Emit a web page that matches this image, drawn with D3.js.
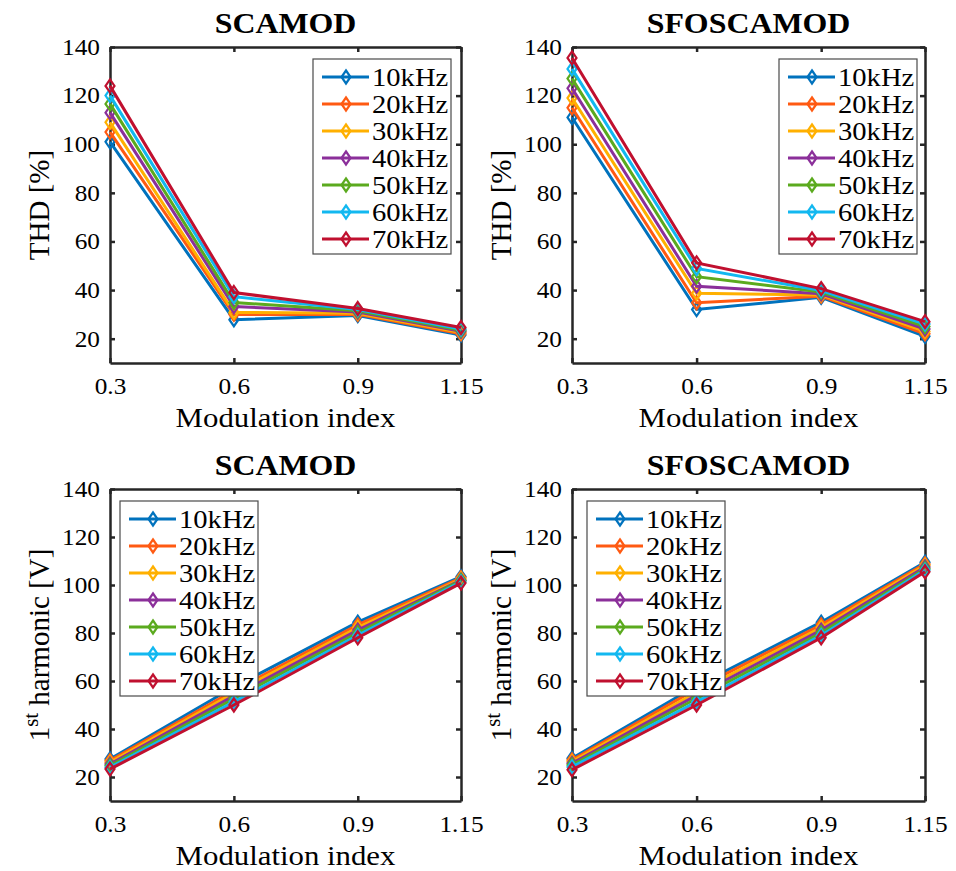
<!DOCTYPE html>
<html>
<head>
<meta charset="utf-8">
<script src="https://cdn.jsdelivr.net/npm/d3@7"></script>
<style>
  html, body { margin: 0; padding: 0; background: #fff; }
  svg { display: block; }
  svg text { font-family: "Liberation Serif", "Times New Roman", serif !important; }
</style>
</head>
<body>
<svg id="chart" width="956" height="871"></svg>
<script>
// ---------------- DATA ----------------
const modulationIndex = [0.3, 0.6, 0.9, 1.15];
const xTickLabels = ["0.3", "0.6", "0.9", "1.15"];
const yTickValues = [20, 40, 60, 80, 100, 120, 140];
const frequencies = ["10kHz", "20kHz", "30kHz", "40kHz", "50kHz", "60kHz", "70kHz"];
const seriesColors = ["#0072BD", "#FF5A12", "#FFB000", "#8B2F9A", "#5BAA1E", "#12B8F0", "#C0102F"];

// THD [%] - SCAMOD (one row per frequency)
const thdScamod = [
  [101.0, 27.8, 29.5, 21.5],
  [105.0, 30.0, 30.0, 22.0],
  [109.0, 30.8, 30.5, 22.5],
  [113.0, 33.2, 31.0, 23.0],
  [116.6, 34.9, 31.5, 23.5],
  [120.0, 37.3, 32.0, 24.0],
  [124.0, 39.0, 32.4, 24.6]
];
// THD [%] - SFOSCAMOD
const thdSfoscamod = [
  [111.0, 32.0, 37.0, 21.0],
  [115.0, 34.8, 37.5, 22.0],
  [119.0, 38.7, 38.0, 23.0],
  [123.0, 41.6, 38.5, 24.0],
  [127.0, 45.5, 39.2, 25.0],
  [131.0, 48.9, 39.8, 26.0],
  [135.5, 51.2, 40.6, 27.0]
];
// 1st harmonic [V] - SCAMOD
const h1Scamod = [
  [27.5, 57.5, 84.5, 103.5],
  [26.8, 56.0, 83.4, 103.0],
  [26.1, 55.0, 82.3, 102.5],
  [25.4, 53.8, 81.2, 102.0],
  [24.7, 52.6, 80.1, 101.8],
  [24.0, 51.3, 79.0, 101.3],
  [23.3, 50.0, 78.0, 100.8]
];
// 1st harmonic [V] - SFOSCAMOD
const h1Sfoscamod = [
  [27.8, 58.0, 84.5, 109.5],
  [27.1, 56.7, 83.4, 108.8],
  [26.4, 55.3, 82.3, 108.2],
  [25.7, 54.0, 81.2, 107.5],
  [25.0, 52.7, 80.1, 106.8],
  [24.2, 51.3, 79.0, 106.2],
  [23.0, 50.0, 78.0, 105.5]
];
const titles = ["SCAMOD", "SFOSCAMOD", "SCAMOD", "SFOSCAMOD"];
const xLabel = "Modulation index";

// ---------------- LAYOUT ----------------
const FF = '"Liberation Serif", "Times New Roman", serif';
const SX = 1.1; // horizontal text stretch
const FONT = { tick: 23, legend: 26, title: 29, xlabel: 28, ylabel: 29 };
const panels = [
  { title: titles[0], data: thdScamod,    ylab: "thd", x0: 110, x1: 461, y0: 47,  y1: 363, lx: 313, ly: 59 },
  { title: titles[1], data: thdSfoscamod, ylab: "thd", x0: 572, x1: 925, y0: 47,  y1: 363, lx: 779, ly: 59 },
  { title: titles[2], data: h1Scamod,     ylab: "h1",  x0: 110, x1: 461, y0: 489, y1: 801, lx: 120, ly: 501 },
  { title: titles[3], data: h1Sfoscamod,  ylab: "h1",  x0: 572, x1: 925, y0: 489, y1: 801, lx: 587, ly: 501 }
];

const svg = d3.select("#chart");
const AX = "#262626";

function diamondPath(cx, cy) {
  const w = 4.5, h = 6.5;
  return `M${cx},${cy - h}L${cx + w},${cy}L${cx},${cy + h}L${cx - w},${cy}Z`;
}

function stretchedText(g, x, y, str, size, opts = {}) {
  return g.append("text")
    .attr("transform", `translate(${x},${y}) scale(${SX},1)`)
    .attr("text-anchor", opts.anchor || "middle")
    .attr("font-size", size)
    .attr("font-weight", opts.bold ? "bold" : "normal")
    .attr("fill", "#000")
    .style("font-family", FF)
    .text(str);
}

panels.forEach(p => {
  const x = d3.scaleLinear().domain([0.3, 1.15]).range([p.x0, p.x1]);
  const y = d3.scaleLinear().domain([10, 140]).range([p.y1, p.y0]);
  const g = svg.append("g");

  const fmtX = (d, i) => xTickLabels[i];
  const left = g.append("g").attr("transform", `translate(${p.x0},0)`)
    .call(d3.axisLeft(y).tickValues(yTickValues).tickSize(-5).tickSizeOuter(0).tickPadding(10 / SX));
  const right = g.append("g").attr("transform", `translate(${p.x1},0)`)
    .call(d3.axisRight(y).tickValues(yTickValues).tickSize(-5).tickSizeOuter(0).tickFormat(""));
  const bottom = g.append("g").attr("transform", `translate(0,${p.y1})`)
    .call(d3.axisBottom(x).tickValues(modulationIndex).tickSize(-5).tickSizeOuter(0).tickPadding(15).tickFormat(fmtX));
  const top = g.append("g").attr("transform", `translate(0,${p.y0})`)
    .call(d3.axisTop(x).tickValues(modulationIndex).tickSize(-5).tickSizeOuter(0).tickFormat(""));

  [left, right, bottom, top].forEach(a => {
    a.attr("font-family", null);
    a.select(".domain").attr("stroke", AX).attr("stroke-width", 2.5);
    a.selectAll(".tick line").attr("stroke", AX).attr("stroke-width", 2.5);
    a.selectAll(".tick text")
      .style("font-family", FF)
      .attr("font-size", FONT.tick).attr("fill", "#000");
  });
  left.selectAll(".tick text").attr("transform", `scale(${SX},1)`);
  bottom.selectAll(".tick text").attr("transform", `scale(${SX},1)`).attr("dy", "0.71em");

  // Series
  const line = d3.line().x((d, i) => x(modulationIndex[i])).y(d => y(d));
  p.data.forEach((vals, si) => {
    const col = seriesColors[si];
    g.append("path").attr("d", line(vals)).attr("fill", "none")
      .attr("stroke", col).attr("stroke-width", 3).attr("stroke-linejoin", "miter");
    vals.forEach((v, i) => {
      g.append("path").attr("d", diamondPath(x(modulationIndex[i]), y(v)))
        .attr("fill", "none").attr("stroke", col).attr("stroke-width", 2.2);
    });
  });

  stretchedText(g, (p.x0 + p.x1) / 2, p.y0 - 14, p.title, FONT.title, { bold: true });
  stretchedText(g, (p.x0 + p.x1) / 2, p.y1 + 64, xLabel, FONT.xlabel);

  const yl = g.append("text")
    .attr("transform", `translate(${p.x0 - 61},${(p.y0 + p.y1) / 2}) rotate(-90)`)
    .attr("text-anchor", "middle").attr("font-size", FONT.ylabel).attr("fill", "#000")
    .style("font-family", FF);
  if (p.ylab === "thd") {
    yl.text("THD [%]");
  } else {
    yl.append("tspan").text("1");
    yl.append("tspan").attr("font-size", FONT.ylabel * 0.72).attr("dy", "-0.55em").text("st");
    yl.append("tspan").attr("dy", "0.4em").text(" harmonic [V]");
  }

  // Legend
  const lw = 138, lh = 195, rowH = 27;
  const lg = g.append("g").attr("transform", `translate(${p.lx},${p.ly})`);
  lg.append("rect").attr("width", lw).attr("height", lh)
    .attr("fill", "#fff").attr("stroke", "#4a4a4a").attr("stroke-width", 1.2);
  frequencies.forEach((f, i) => {
    const ry = 18 + i * rowH;
    lg.append("line").attr("x1", 9).attr("x2", 56).attr("y1", ry).attr("y2", ry)
      .attr("stroke", seriesColors[i]).attr("stroke-width", 3);
    lg.append("path").attr("d", diamondPath(33, ry)).attr("fill", "none")
      .attr("stroke", seriesColors[i]).attr("stroke-width", 2.2);
    stretchedText(lg, 59, ry + 9, f, FONT.legend, { anchor: "start" });
  });
});
</script>
</body>
</html>
